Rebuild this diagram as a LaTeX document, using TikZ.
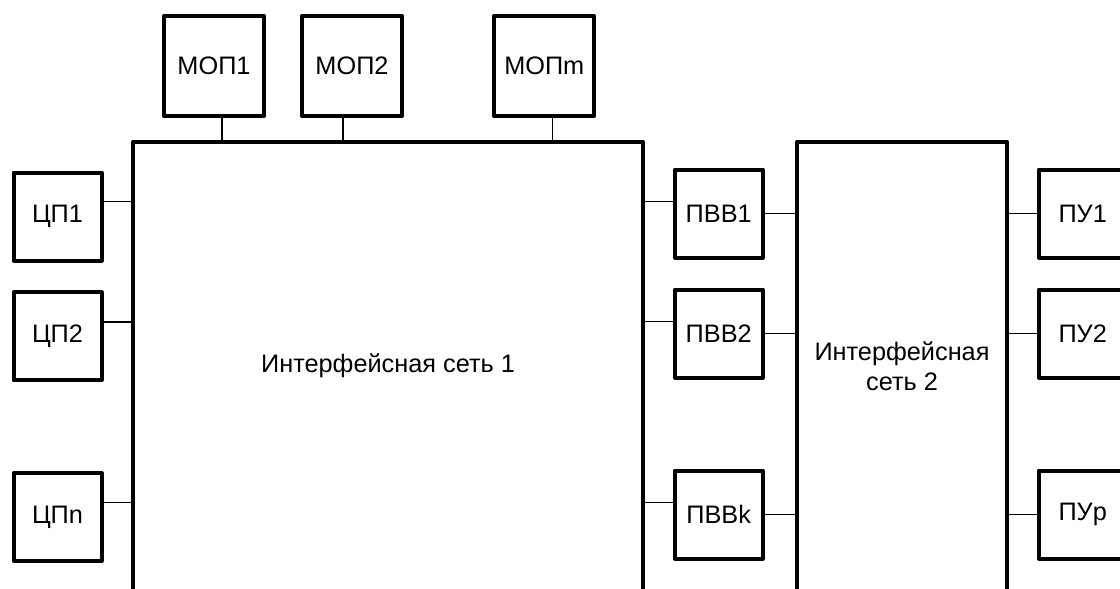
\documentclass[tikz,border=0pt]{standalone}
\usepackage{fontspec}
\setmainfont{Liberation Sans}
\begin{document}
\begin{tikzpicture}[x=1pt,y=-1pt,
  box/.style={draw, line width=4pt, line join=round, inner sep=0pt, font=\fontsize{25.3}{30}\selectfont},
  mopbox/.style={box, minimum width=100pt, minimum height=100pt},
  unitbox/.style={box, minimum width=88pt, minimum height=88pt},
  netbox/.style={draw, line width=4pt, line join=round, inner sep=0pt},
  lbl/.style={font=\fontsize{25.3}{30}\selectfont, inner sep=0pt, align=center},
  conn/.style={line width=1.3pt}]
\clip (0,0) rectangle (1120,589);
\fill[white] (0,0) rectangle (1120,589);
% networks
\node[netbox, minimum width=510pt, minimum height=470pt] (net1) at (388,377) {};
\node[netbox, minimum width=210pt, minimum height=470pt] (net2) at (902,377) {};
\node[lbl] (t1) at (388,366) {Интерфейсная сеть 1};
\node[lbl] (t2) at (902,366) {Интерфейсная\\сеть 2};
% memory modules
\node[mopbox] (mop1) at (214,66) {МОП1};
\node[mopbox] (mop2) at (352,66) {МОП2};
\node[mopbox] (mopm) at (544.3,66) {МОПm};
% processors
\node[unitbox] (cp1) at (57.5,216.5) {ЦП1};
\node[unitbox] (cp2) at (57.5,336.3) {ЦП2};
\node[unitbox] (cpn) at (57.5,517) {ЦПn};
% IO processors
\node[unitbox] (pvv1) at (718.7,213.5) {ПВВ1};
\node[unitbox] (pvv2) at (718.7,333.5) {ПВВ2};
\node[unitbox] (pvvk) at (718.7,514.5) {ПВВk};
% peripheral devices
\node[unitbox] (pu1) at (1082.7,213.5) {ПУ1};
\node[unitbox] (pu2) at (1082.7,333.5) {ПУ2};
\node[unitbox] (pup) at (1082.7,514.5) {ПУp};
% connectors: memory
\draw[conn] (mop1.south -| 222,0) -- (net1.north -| 222,0);
\draw[conn] (mop2.south -| 343,0) -- (net1.north -| 343,0);
\draw[conn] (mopm.south -| 552.7,0) -- (net1.north -| 552.7,0);
% connectors: processors
\draw[conn] (cp1.east |- 0,201.7) -- (net1.west |- 0,201.7);
\draw[conn] (cp2.east |- 0,322) -- (net1.west |- 0,322);
\draw[conn] (cpn.east |- 0,502.3) -- (net1.west |- 0,502.3);
% connectors: net1 to IO processors
\draw[conn] (net1.east |- 0,201.3) -- (pvv1.west |- 0,201.3);
\draw[conn] (net1.east |- 0,321.7) -- (pvv2.west |- 0,321.7);
\draw[conn] (net1.east |- 0,502.3) -- (pvvk.west |- 0,502.3);
% connectors: IO processors to net2
\draw[conn] (pvv1.east) -- (net2.west |- pvv1.east);
\draw[conn] (pvv2.east) -- (net2.west |- pvv2.east);
\draw[conn] (pvvk.east) -- (net2.west |- pvvk.east);
% connectors: net2 to peripherals
\draw[conn] (net2.east |- pu1.west) -- (pu1.west);
\draw[conn] (net2.east |- pu2.west) -- (pu2.west);
\draw[conn] (net2.east |- pup.west) -- (pup.west);
\end{tikzpicture}
\end{document}
